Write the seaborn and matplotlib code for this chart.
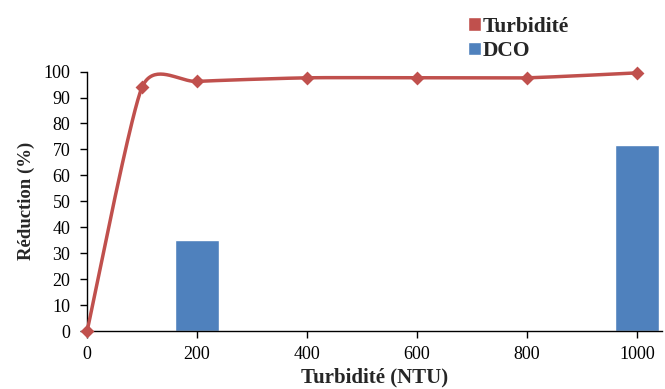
import numpy as np
import pandas as pd
import matplotlib
matplotlib.use("Agg")
import matplotlib.pyplot as plt
import seaborn as sns
from matplotlib.patches import Patch

# Turbidity removal curve
turb_x = [0, 100, 200, 400, 600, 800, 1000]
turb_y = [0, 94, 96.2, 97.6, 97.6, 97.6, 99.5]

# COD removal bars
dco_x = [200, 1000]
dco_y = [35, 71.7]

x_ticks = [0, 200, 400, 600, 800, 1000]
y_ticks = list(range(0, 101, 10))

RED = "#C0504D"
BLUE = "#4F81BD"

sns.set_theme(style="white")
plt.rcParams["font.family"] = ["Liberation Serif", "DejaVu Serif"]

fig = plt.figure(figsize=(6.65, 3.89), dpi=100)
ax = fig.add_axes([0.131, 0.149, 0.864, 0.667])

bars = pd.DataFrame({"x": dco_x, "y": dco_y})
sns.barplot(data=bars, x="x", y="y", native_scale=True, width=0.1,
            color=BLUE, saturation=1, ax=ax, zorder=2)


def smooth_path(xs, ys, k=0.105, steps=40):
    """Cubic Bezier smoothing through the points (spreadsheet-style)."""
    xs = np.asarray(xs, float)
    ys = np.asarray(ys, float)
    px = np.concatenate([[xs[0]], xs, [xs[-1]]])
    py = np.concatenate([[ys[0]], ys, [ys[-1]]])
    out_x, out_y = [], []
    t = np.linspace(0, 1, steps)
    for i in range(1, len(px) - 2):
        p0 = np.array([px[i], py[i]])
        p3 = np.array([px[i + 1], py[i + 1]])
        c1 = p0 + (np.array([px[i + 1], py[i + 1]]) - np.array([px[i - 1], py[i - 1]])) * k
        c2 = p3 - (np.array([px[i + 2], py[i + 2]]) - np.array([px[i], py[i]])) * k
        b = ((1 - t) ** 3)[:, None] * p0 + (3 * (1 - t) ** 2 * t)[:, None] * c1 \
            + (3 * (1 - t) * t ** 2)[:, None] * c2 + (t ** 3)[:, None] * p3
        out_x.extend(b[:, 0])
        out_y.extend(b[:, 1])
    return np.array(out_x), np.array(out_y)


sx, sy = smooth_path(turb_x, turb_y)
ax.plot(sx, sy, color=RED, lw=2.5, zorder=3, clip_on=False,
        solid_capstyle="round")
sns.scatterplot(x=turb_x, y=turb_y, marker="D", s=50, color=RED,
                edgecolor=RED, linewidth=0, ax=ax, zorder=4, clip_on=False)

ax.set_xlim(0, 1045)
ax.set_ylim(0, 100)
ax.set_xticks(x_ticks)
ax.set_yticks(y_ticks)
ax.set_xticklabels([str(v) for v in x_ticks])
ax.tick_params(axis="both", direction="out", length=5, width=1,
               labelsize=13, colors="black")
ax.tick_params(axis="y", left=True, pad=7)
ax.tick_params(axis="x", bottom=True, pad=6)

for side in ("top", "right"):
    ax.spines[side].set_visible(False)
for side in ("left", "bottom"):
    ax.spines[side].set_color("black")
    ax.spines[side].set_linewidth(1)

ax.set_xlabel("Turbidité (NTU)", fontsize=15, fontweight="bold", labelpad=3)
ax.set_ylabel("Réduction (%)", fontsize=13.5, fontweight="bold", labelpad=6)

handles = [Patch(facecolor=RED, label="Turbidité"),
           Patch(facecolor=BLUE, label="DCO")]
fig.legend(handles=handles, loc="upper left", bbox_to_anchor=(0.698, 0.968),
           frameon=False, prop={"weight": "bold", "size": 15.5},
           handlelength=0.6, handleheight=0.6, handletextpad=0.05,
           labelspacing=0.2, borderaxespad=0, borderpad=0.2)

fig.savefig("out.png", dpi=100)
